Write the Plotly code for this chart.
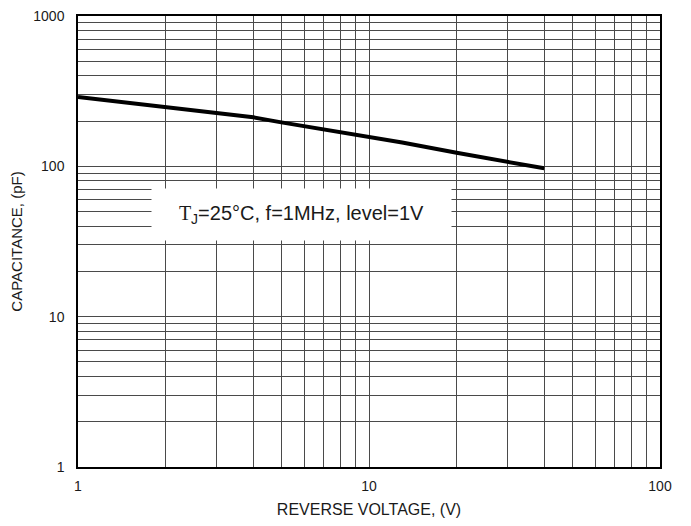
import plotly.graph_objects as go

# Data
voltage = [1, 2, 3, 4, 5, 6, 7, 8, 9, 10, 13, 20, 30, 40]
capacitance = [289, 248, 228, 212, 196, 185, 175, 168, 163, 157, 144, 123, 107, 97]

x_major = [1, 10, 100]
x_major_labels = ["1", "10", "100"]
y_major = [1, 10, 100, 1000]
y_major_labels = ["1", "10", "100", "1000"]
x_minor = [2, 3, 4, 5, 6, 7, 8, 9, 20, 30, 40, 50, 60, 70, 80, 90]
y_minor = [2, 3, 4, 5, 6, 7, 8, 9, 20, 30, 40, 50, 60, 70, 80, 90,
           200, 300, 400, 500, 600, 700, 800, 900]

font_family = "Liberation Sans, Arial, sans-serif"
grid_color = "#4a4a4a"

fig = go.Figure()
fig.add_trace(go.Scatter(
    x=voltage, y=capacitance, mode="lines",
    line=dict(color="black", width=4),
    showlegend=False, hoverinfo="skip",
))

axis_common = dict(
    type="log",
    showline=True, mirror=True, linecolor="black", linewidth=1.5,
    showgrid=True, gridcolor=grid_color, gridwidth=1,
    ticks="", zeroline=False, ticklabeloverflow="allow",
    tickfont=dict(family=font_family, size=14, color="#1a1a1a"),
)

fig.update_xaxes(
    **axis_common,
    range=[0, 2],
    tickmode="array", tickvals=x_major, ticktext=x_major_labels,
    ticklabelstandoff=5,
    minor=dict(tickmode="array", tickvals=x_minor, showgrid=True,
               gridcolor=grid_color, gridwidth=1, ticks=""),
    title=dict(text="REVERSE VOLTAGE, (V)",
               font=dict(family=font_family, size=16, color="#1a1a1a"),
               standoff=11),
)
fig.update_yaxes(
    **axis_common,
    range=[0, 3],
    tickmode="array", tickvals=y_major, ticktext=y_major_labels,
    ticklabelstandoff=9,
    minor=dict(tickmode="array", tickvals=y_minor, showgrid=True,
               gridcolor=grid_color, gridwidth=1, ticks=""),
    title=dict(text="CAPACITANCE, (pF)",
               font=dict(family=font_family, size=15, color="#1a1a1a"),
               standoff=14),
)

fig.add_annotation(
    xref="paper", yref="paper", x=0.384, y=0.560,
    xanchor="center", yanchor="middle",
    text="<span style='font-family:Liberation Serif, Times New Roman, serif'>T</span><sub>J</sub>=25°C, f=1MHz, level=1V",
    showarrow=False,
    font=dict(family=font_family, size=20, color="#1a1a1a"),
    bgcolor="white", width=297, height=49, align="center",
)

fig.update_layout(
    width=691, height=526,
    margin=dict(l=70, r=39, t=8, b=67, autoexpand=False),
    paper_bgcolor="white", plot_bgcolor="white",
)

fig.write_html("out.html")
